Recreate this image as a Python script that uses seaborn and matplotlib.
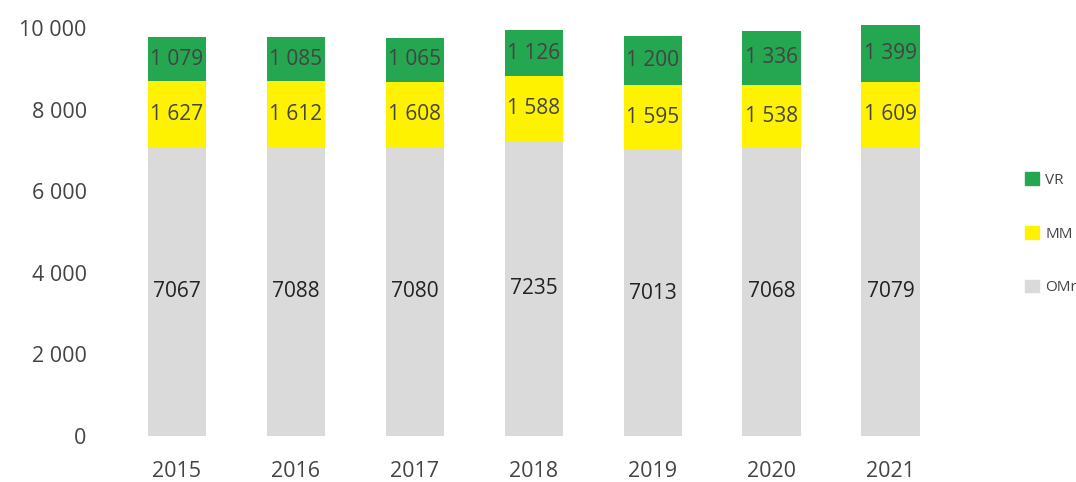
import matplotlib
matplotlib.use("Agg")
import matplotlib.pyplot as plt
import seaborn as sns
import numpy as np
import pandas as pd
from matplotlib.patches import Patch
from matplotlib.ticker import FuncFormatter

years = ["2015", "2016", "2017", "2018", "2019", "2020", "2021"]
omr = [7067, 7088, 7080, 7235, 7013, 7068, 7079]
mm = [1627, 1612, 1608, 1588, 1595, 1538, 1609]
vr = [1079, 1085, 1065, 1126, 1200, 1336, 1399]
yticks = [0, 2000, 4000, 6000, 8000, 10000]

c_omr = "#dadada"
c_mm = "#fff200"
c_vr = "#25a651"

sns.set_theme(style="white")
plt.rcParams['font.family'] = ['Open Sans', 'DejaVu Sans']

fig = plt.figure(figsize=(10.76, 4.82), dpi=100)
ax = fig.add_axes([0.109, 0.0954, 0.774, 0.88])

df = pd.DataFrame({"year": years, "OMr": omr, "MM": mm, "VR": vr})
bot_mm = np.array(omr)
bot_vr = np.array(omr) + np.array(mm)

kw = dict(width=0.49, ax=ax, saturation=1, linewidth=0)
sns.barplot(data=df, x="year", y="OMr", color=c_omr, **kw)
sns.barplot(data=df, x="year", y="MM", color=c_mm, bottom=bot_mm, **kw)
sns.barplot(data=df, x="year", y="VR", color=c_vr, bottom=bot_vr, **kw)

def sp(v):
    return f"{v:,}".replace(",", " ")

conts = ax.containers
ax.bar_label(conts[0], labels=[str(v) for v in omr], label_type="center", fontsize=15, color="#222222")
ax.bar_label(conts[1], labels=[sp(v) for v in mm], label_type="center", fontsize=15, color="#444444")
ax.bar_label(conts[2], labels=[sp(v) for v in vr], label_type="center", fontsize=15, color="#444444")

ax.set_ylim(0, 10400)
ax.set_xlim(-0.5, 6.5)
ax.set_yticks(yticks)
ax.yaxis.set_major_formatter(FuncFormatter(lambda v, p: sp(int(v))))
ax.tick_params(axis="both", colors="#444444", length=0)
ax.tick_params(axis="y", pad=22, labelsize=15.5)
ax.tick_params(axis="x", pad=18, labelsize=15.5)
ax.set_xlabel("")
ax.set_ylabel("")
for s in ax.spines.values():
    s.set_visible(False)

handles = [Patch(color=c_vr, label="VR"), Patch(color=c_mm, label="MM"), Patch(color=c_omr, label="OMr")]
fig.legend(handles=handles, loc="center left", bbox_to_anchor=(0.953, 0.515), frameon=False,
           fontsize=11, handlelength=0.9, handleheight=0.9, handletextpad=0.4,
           labelspacing=2.5, labelcolor="#444444", borderaxespad=0, borderpad=0)

fig.savefig("out.png", dpi=100)
